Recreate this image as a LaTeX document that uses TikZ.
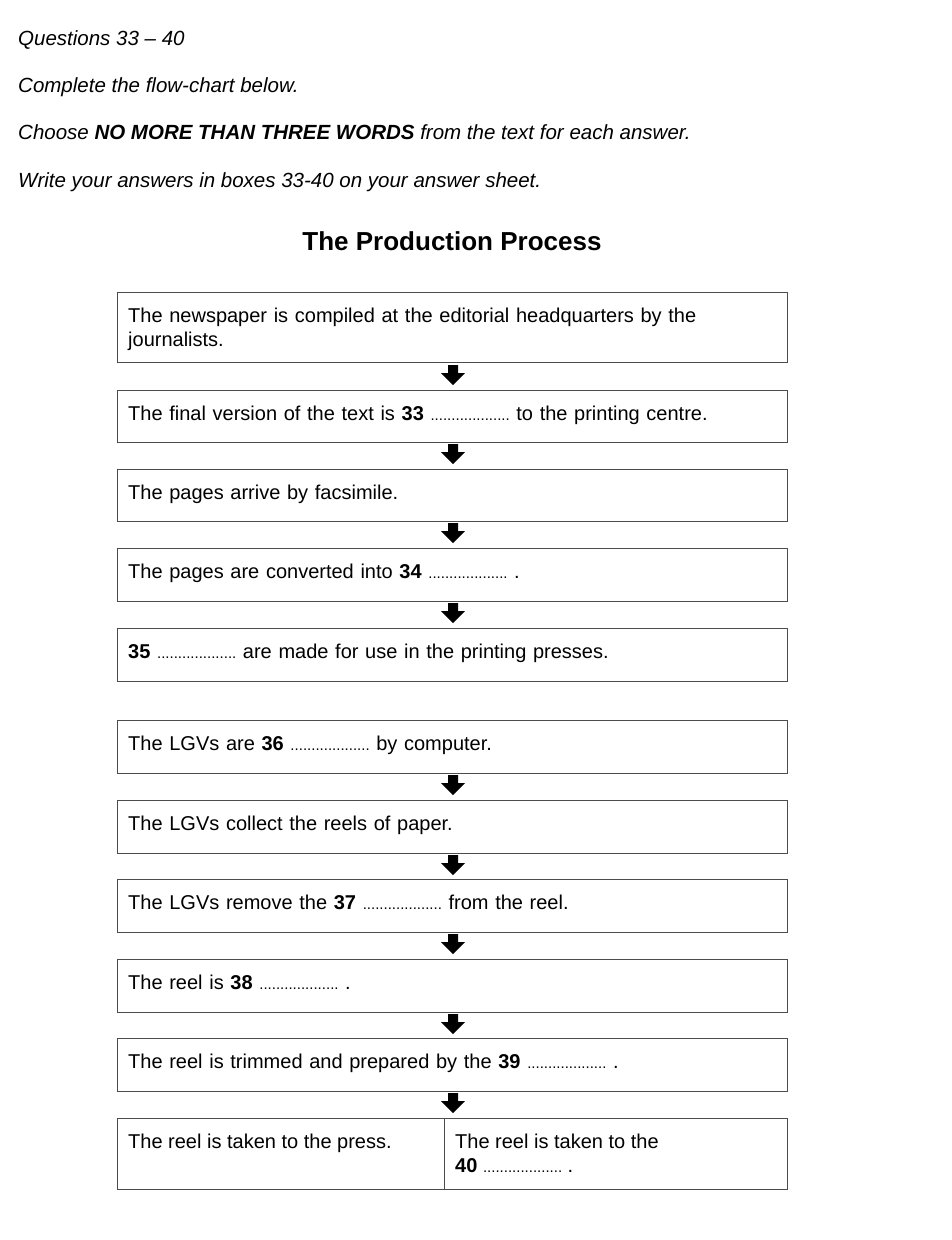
\documentclass[tikz,border=0pt]{standalone}
\usepackage{fontspec}
\setmainfont{Liberation Sans}
\begin{document}
\begin{tikzpicture}[x=1pt,y=-1pt,
  box/.style={draw=black!70,line width=0.8pt},
  txt/.style={anchor=north west,inner sep=0pt,align=left,font=\fontsize{20}{23.5}\selectfont},
  hdr/.style={anchor=base west,inner sep=0pt,font=\fontsize{20.5}{24}\selectfont\itshape}]
\useasboundingbox (0,0) rectangle (952,1240);
\node[hdr] (h1) at (18,45) {Questions 33 -- 40};
\node[hdr] (h2) at (18,92) {Complete the flow-chart below.};
\node[hdr] (h3) at (18,139) {Choose \textbf{NO MORE THAN THREE WORDS} from the text for each answer.};
\node[hdr] (h4) at (18,187) {Write your answers in boxes 33-40 on your answer sheet.};
\node[inner sep=0pt,font=\fontsize{26}{30}\selectfont\bfseries] (title) at (452,241) {The Production Process};
\def\dots{{\fontsize{15}{15}\selectfont...................}}
\newcommand\bx[4]{% name, top, bottom, text
  \draw[box] (117,#2) rectangle (787,#3);
  \node[txt,text width=650pt] (#1) at (128,#2+16) {#4};}
\bx{b1}{292}{362}{The newspaper is compiled at the editorial headquarters by the\\journalists.}
\bx{b2}{390}{442}{The final version of the text is \textbf{33} \dots\ to the printing centre.}
\bx{b3}{469}{521}{The pages arrive by facsimile.}
\bx{b4}{548}{601}{The pages are converted into \textbf{34} \dots\ .}
\bx{b5}{628}{681}{\textbf{35} \dots\ are made for use in the printing presses.}
\bx{b6}{720}{773}{The LGVs are \textbf{36} \dots\ by computer.}
\bx{b7}{800}{853}{The LGVs collect the reels of paper.}
\bx{b8}{879}{932}{The LGVs remove the \textbf{37} \dots\ from the reel.}
\bx{b9}{959}{1012}{The reel is \textbf{38} \dots\ .}
\bx{b10}{1038}{1091}{The reel is trimmed and prepared by the \textbf{39} \dots\ .}
\draw[box] (117,1118) rectangle (787,1189);
\draw[box] (444,1118) -- (444,1189);
\node[txt] (b11a) at (128,1134) {The reel is taken to the press.};
\node[txt] (b11b) at (455,1134) {The reel is taken to the\\\textbf{40} \dots\ .};
\newcommand\arr[1]{%
  \fill (448,#1) -- (458,#1) -- (458,#1+8) -- (465,#1+8) -- (453,#1+20) -- (441,#1+8) -- (448,#1+8) -- cycle;}
\arr{365}\arr{444}\arr{523}\arr{603}
\arr{775}\arr{855}\arr{934}\arr{1014}\arr{1093}
\end{tikzpicture}
\end{document}
